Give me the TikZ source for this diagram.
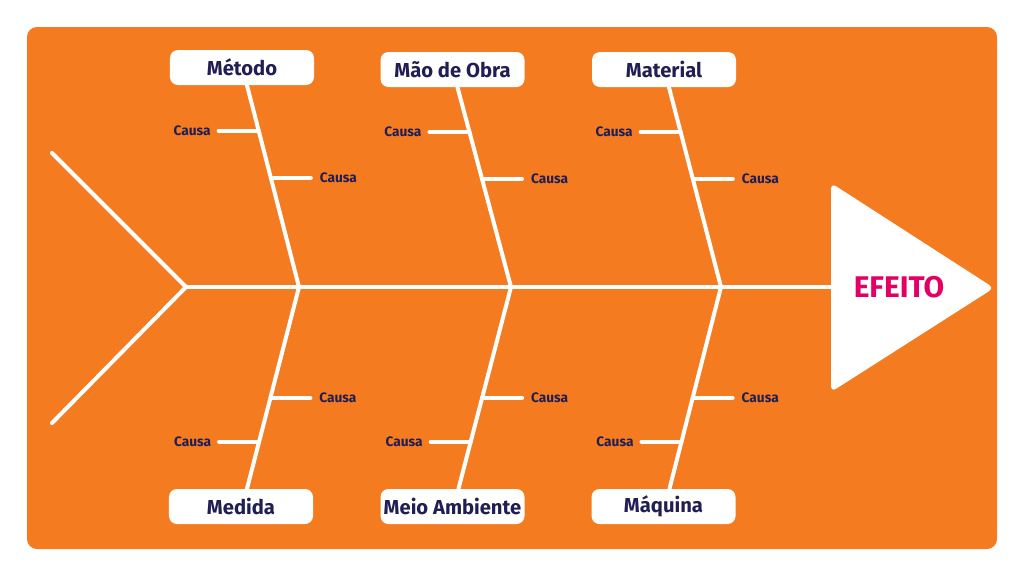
\documentclass[tikz,border=0pt]{standalone}
\usepackage{fontspec}
\setmainfont{Fira Sans}
\usetikzlibrary{calc,positioning}
\definecolor{laranja}{RGB}{244,123,32}
\definecolor{azul}{RGB}{32,30,84}
\definecolor{rosa}{RGB}{228,0,98}
\tikzset{
  cat/.style={fill=white,rounded corners=1.6mm,minimum width=28.8mm,minimum height=7mm,inner sep=0pt,
    text=azul,font=\bfseries\fontsize{11.5}{11.5}\selectfont},
  osso/.style={white,line width=0.8mm,line cap=round},
  causa/.style={inner sep=0pt,text=azul,font=\bfseries\fontsize{7.8}{7.8}\selectfont}
}

\begin{document}
\begin{tikzpicture}[x=0.2mm,y=-0.2mm]
  \useasboundingbox (0,0) rectangle (1024,576);
  \fill[laranja,rounded corners=2mm] (27,27) rectangle (997,549);

  \coordinate (cauda) at (186,287);
  \coordinate (t1) at (52,153);
  \coordinate (t2) at (52,423);
  \coordinate (cabeca) at (831,287);
  \coordinate (j1) at (299,287);
  \coordinate (j2) at (511,287);
  \coordinate (j3) at (721,287);

  \fill[white,rounded corners=1.2mm] (831,183) -- (994,288) -- (831,392) -- cycle;
  \node[text=rosa,font=\bfseries\fontsize{17}{17}\selectfont] (efeito) at (899,287) {EFEITO};

  \draw[osso] (t1) -- (cauda) -- (t2);
  \draw[osso] (cauda) -- (cabeca);

  \node[cat] (metodo) at (242,67.5) {Método};
  \node[cat] (obra) at (452.5,69.5) {Mão de Obra};
  \node[cat] (material) at (664,69.5) {Material};
  \node[cat] (medida) at (241,506.5) {Medida};
  \node[cat] (meio) at (452.5,506.5) {Meio Ambiente};
  \node[cat] (maquina) at (663.5,506.5) {Máquina};

  \foreach \j/\c/\b in {j1/metodo/medida,j2/obra/meio,j3/material/maquina}{
    \coordinate (\c-p) at ($(\c.south)+(5,0)$);
    \coordinate (\b-p) at ($(\b.north)+(6,0)$);
    \draw[osso] (\c-p) -- (\j) -- (\b-p);
    \coordinate (\c-1) at ($(\c-p)!0.224!(\j)$);
    \coordinate (\c-2) at ($(\c-p)!0.458!(\j)$);
    \coordinate (\b-1) at ($(\j)!0.55!(\b-p)$);
    \coordinate (\b-2) at ($(\j)!0.767!(\b-p)$);
    \draw[osso] (\c-1) -- ++(-40,0) coordinate (\c-e1) node[causa,left=1.2mm] {Causa};
    \draw[osso] (\c-2) -- ++(40,0) coordinate (\c-e2) node[causa,right=1.4mm] {Causa};
    \draw[osso] (\b-1) -- ++(40,0) coordinate (\b-e1) node[causa,right=1.4mm] {Causa};
    \draw[osso] (\b-2) -- ++(-40,0) coordinate (\b-e2) node[causa,left=1.2mm] {Causa};
  }
\end{tikzpicture}
\end{document}
